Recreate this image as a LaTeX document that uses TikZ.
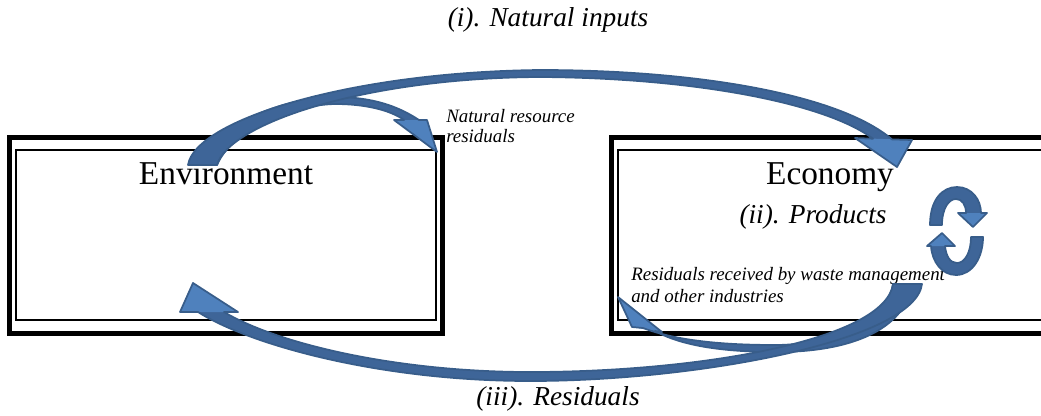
\documentclass[tikz,border=0pt]{standalone}
\usepackage{fontspec}
\setmainfont{Liberation Serif}
\definecolor{arrfill}{RGB}{79,129,189}
\definecolor{arrdark}{RGB}{62,101,152}
\definecolor{arrline}{RGB}{56,93,138}
\def\pathNR{(205,165) .. controls (215,125) and (280,98) .. (335,97)
  .. controls (372,97) and (398,106) .. (419,120) -- (427,120) -- (437,152)
  -- (394,120) -- (404,120) .. controls (390,110) and (365,104) .. (335,104)
  .. controls (290,105) and (232,130) .. (217,165) -- cycle}
\def\pathNI{(188,165) .. controls (195,120) and (350,72) .. (540,70)
  .. controls (700,70) and (840,95) .. (892,139.4) -- (912,140) -- (897,167)
  -- (855,138) -- (873,138.7) .. controls (825,103) and (695,78) .. (540,77)
  .. controls (360,78) and (228,125) .. (217,165) -- cycle}
\def\pathRW{(912,284) .. controls (905,330) and (850,352) .. (777,352)
  .. controls (720,352) and (680,345) .. (655,331) -- (662,332) -- (618,297)
  -- (632,327) -- (643,328) .. controls (680,342) and (730,345) .. (777,345)
  .. controls (840,344) and (888,320) .. (893,284) -- cycle}
\def\pathRS{(922,284) .. controls (915,340) and (700,381) .. (530,381)
  .. controls (380,381) and (250,345) .. (198,312) -- (180,312) -- (193,283)
  -- (238,312) -- (224,312) .. controls (280,345) and (400,372) .. (530,372)
  .. controls (700,372) and (885,340) .. (893,284) -- cycle}
\def\pathCA{(930,225) .. controls (930,200) and (942,187) .. (957,187)
  .. controls (972,187) and (981,200) .. (981,213) -- (987,213) -- (973,227)
  -- (958,213) -- (966,213) .. controls (966,205) and (962,199) .. (956,199)
  .. controls (949,199) and (942,208) .. (942,225) -- cycle}
\def\pathCB{(983,237) .. controls (983,258) and (972,275) .. (956,275)
  .. controls (942,275) and (932,262) .. (931,246) -- (927,246) -- (942,233)
  -- (955,246) -- (945,246) .. controls (946,256) and (950,263) .. (957,263)
  .. controls (965,263) and (971,252) .. (971,237) -- cycle}
\begin{document}
\begin{tikzpicture}[x=0.75pt,y=-0.75pt,
  outerbox/.style={draw=black,line width=3.75pt},
  innerbox/.style={draw=black,line width=1.3pt},
  bandfill/.style={fill=arrdark},
  headfill/.style={fill=arrfill},
  bandline/.style={draw=arrline,line width=1.3pt,line join=round},
  lbl/.style={inner sep=0pt,anchor=base},
  lblw/.style={inner sep=0pt,anchor=base west},
  bigfont/.style={font=\fontsize{25}{30}\selectfont},
  midit/.style={font=\fontsize{20.5}{24}\selectfont\itshape},
  smallit/.style={font=\fontsize{14.2}{17}\selectfont\itshape}]
\clip (0,0) rectangle (1041,415);
% boxes
\draw[outerbox] (9.5,137.5) rectangle (442.5,333.5);
\draw[innerbox] (16,150) rectangle (436,320);
\draw[outerbox] (611.5,137.5) rectangle (1080,333.5);
\draw[innerbox] (618,150) rectangle (1070,320);
% texts
\node[lbl,midit] (natin) at (548,26) {(i). Natural inputs};
\node[lbl,bigfont] (envlbl) at (226,184) {Environment};
\node[lbl,bigfont] (ecolbl) at (830,184) {Economy};
\node[lbl,midit] (prod) at (813,223) {(ii). Products};
\node[lbl,midit] (resid) at (558,405) {(iii). Residuals};
\node[lblw,smallit] (nrr1) at (446,122) {Natural resource};
\node[lblw,smallit] (nrr2) at (446,142) {residuals};
\node[lblw,smallit] (wm1) at (631,280) {Residuals received by waste management};
\node[lblw,smallit] (wm2) at (631,302) {and other industries};
% natural resource residuals arrow (small, top)
\fill[bandfill] \pathNR;
\fill[headfill] (394,120) -- (437,152) -- (427,120) -- cycle;
\draw[bandline] \pathNR;
% natural inputs arrow (big, top)
\fill[bandfill] \pathNI;
\fill[headfill] (855,138) -- (897,167) -- (912,140) -- cycle;
\draw[bandline] \pathNI;
% residuals to waste management (small, bottom)
\fill[bandfill] \pathRW;
\fill[headfill] (662,332) -- (618,297) -- (632,327) -- cycle;
\draw[bandline] \pathRW;
% residuals (big, bottom)
\fill[bandfill] \pathRS;
\fill[headfill] (180,312) -- (193,283) -- (238,312) -- cycle;
\draw[bandline] \pathRS;
% products cycle arrows
\fill[bandfill] \pathCA;
\fill[headfill] (987,213) -- (973,227) -- (958,213) -- cycle;
\draw[bandline] \pathCA;
\fill[bandfill] \pathCB;
\fill[headfill] (927,246) -- (942,233) -- (955,246) -- cycle;
\draw[bandline] \pathCB;
\end{tikzpicture}
\end{document}
